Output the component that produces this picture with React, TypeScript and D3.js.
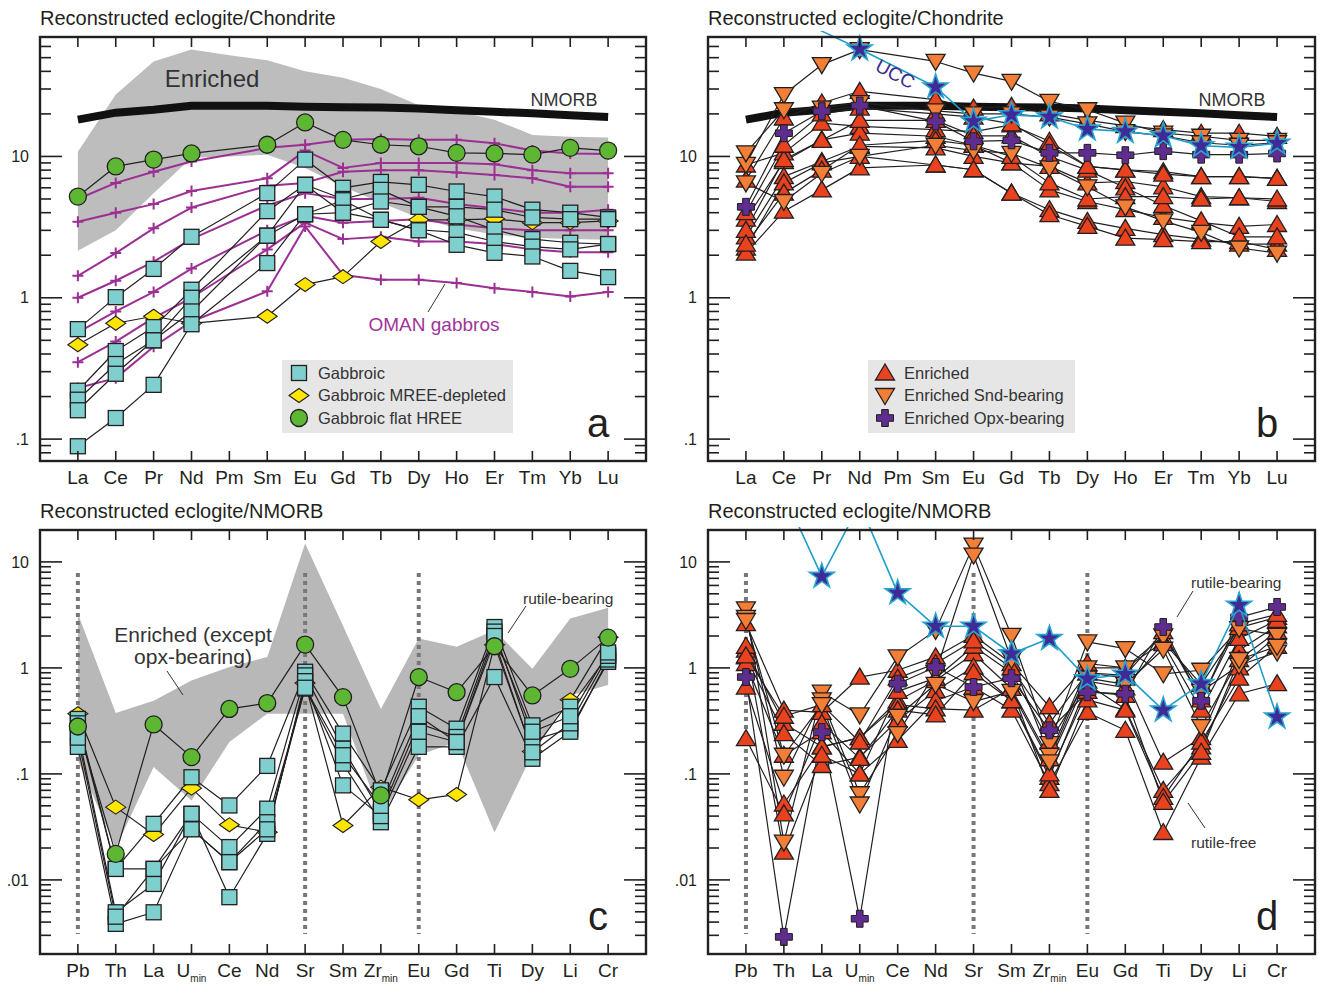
import React from 'react';
import * as d3 from 'd3';

// categories
const REE = ['La', 'Ce', 'Pr', 'Nd', 'Pm', 'Sm', 'Eu', 'Gd', 'Tb', 'Dy', 'Ho', 'Er', 'Tm', 'Yb', 'Lu'];
const SPIDER = ['Pb', 'Th', 'La', 'U', 'Ce', 'Nd', 'Sr', 'Sm', 'Zr', 'Eu', 'Gd', 'Ti', 'Dy', 'Li', 'Cr'];
const SUBS: Record<string, string> = { U: 'min', Zr: 'min' };

// ---- panel a: chondrite normalised, gabbroic ----
const nmorbChondrite = [18.2, 20.4, 21.4, 22.8, 22.8, 22.8, 22.5, 22.3, 22.2, 21.8, 21.2, 20.7, 20.2, 19.6, 19.0];
const enrichedUpperA = [10.8, 27.4, 47, 57, 52, 48, 40, 36, 30, 23, 21, 18.2, 14.2, 13.8, 13.6];
const enrichedLowerA = [2.15, 3.0, 5.5, 9.8, 10, 10.3, 8.3, 6.1, 4.7, 3.68, 3.1, 2.8, 2.66, 2.6, 2.57];
const omanGabbros = [
  [5.0, 6.5, 7.8, 9.2, null, 11.5, 12.1, 13.1, 13.3, 13.1, 13.1, 12.4, 11.0, 10.5, 10.4],
  [3.45, 4.0, 4.6, 5.7, null, 7.0, 11.0, 8.3, 9.0, 9.0, 9.0, 8.8, 8.0, 7.6, 7.6],
  [1.43, 2.07, 3.1, 4.35, null, 6.2, 6.5, 7.8, 8.0, 8.0, 7.7, 7.4, 7.0, 6.1, 6.1],
  [1.0, 1.32, 1.8, 2.6, null, 4.5, 5.5, 5.0, 5.0, 5.1, 4.6, 4.3, 4.0, 4.0, 4.2],
  [0.57, 0.8, 1.1, 1.61, null, 3.0, 3.8, 3.4, 3.5, 3.6, 3.3, 3.1, 3.0, 3.0, 3.0],
  [0.35, 0.49, 0.72, 1.0, null, 2.2, 3.4, 2.6, 2.7, 2.5, 2.5, 2.4, 2.2, 2.1, 2.1],
  [0.23, 0.27, 0.45, 0.68, null, 1.11, 3.2, 1.45, 1.34, 1.34, 1.27, 1.17, 1.1, 1.02, 1.1],
];
const gabbroicA = [
  [0.6, 1.01, 1.6, 2.7, null, 5.5, 9.5, 6.0, 6.6, 6.3, 5.65, 5.2, 4.2, 4.0, 3.7],
  [0.22, 0.42, 0.62, 1.14, null, 4.1, 6.3, 5.0, 5.8, 4.4, 4.4, 4.2, 3.7, 3.6, 3.6],
  [0.19, 0.34, 0.5, 1.0, null, 2.75, 6.3, 4.0, 4.8, 4.4, 3.77, 3.03, 2.6, 2.45, 2.4],
  [0.16, 0.29, 0.5, 0.8, null, 2.75, 3.9, 4.9, 3.56, 3.03, 2.9, 2.5, 2.3, 2.2, 2.4],
  [0.089, 0.141, 0.242, 0.65, null, 1.76, 3.9, 4.0, 3.56, 3.0, 2.37, 2.08, 1.96, 1.55, 1.4],
];
const mreeDepletedA = [[0.465, 0.66, 0.74, 0.66, null, 0.74, 1.24, 1.41, 2.5, 3.56, 3.56, 3.62, 3.4, 3.4, 3.5]];
const flatHreeA = [[5.2, 8.5, 9.5, 10.5, null, 12.1, 17.4, 13.1, 12.1, 11.8, 10.6, 10.5, 10.3, 11.5, 11.0]];

// ---- panel b: chondrite normalised, enriched ----
const uccChondrite = [127, 103, 77, 57.5, null, 31, 17.7, 19.7, 19.0, 15.6, 15.0, 14.0, 11.9, 11.6, 12.4];
const enrichedB = [
  [6.8, 18.7, 23.9, 28.9, null, 25.2, 22, 22.6, 20, 18, 16.5, 15.5, 14.6, 14.6, 13.9],
  [8.7, 10.6, 17.2, 16.3, null, 15.5, 15, 16.7, 12.8, 8.5, 8.05, 7.8, 7.2, 7.2, 7.0],
  [3.6, 9.2, 13.1, 14.6, null, 13.9, 12, 9.0, 8.5, 6.5, 6.65, 6.1, 5.2, 5.1, 4.8],
  [2.7, 7.2, 9.2, 11.8, null, 11.5, 10, 9.0, 5.8, 4.8, 4.2, 3.7, 3.4, 3.2, 3.3],
  [2.25, 6.5, 9.0, 10, null, 8.7, 8.05, 5.5, 4.2, 3.47, 3.1, 2.8, 2.6, 2.4, 2.4],
  [2.07, 4.1, 5.8, 8.3, null, 8.7, 8.05, 5.5, 3.87, 3.2, 2.64, 2.58, 2.5, 2.5, 2.2],
  [3.0, 9.5, 13, 18, null, 18, 14, 14, 10, 8, 6, 4.5, 3.5, 2.7, 2.7],
  [4.0, 12, 20, 22, null, 20, 19, 17, 12, 8.5, 8, 7.5, 7.2, 7.2, 7.0],
  [2.4, 5.5, 8, 12, null, 13, 12, 10, 6.5, 5.0, 5.2, 5.2, 5.0, 5.1, 5.0],
];
const sndBearingB = [
  [8.8, 27.4, 44.6, 57, null, 47, 38.9, 34, 24.5, 21.4, 17.2, 14.6, 13.9, 13, 13],
  [10.6, 21.4, 22, 24, null, 21, 20, 20, 19, 17, 15, 14, 12.5, 12, 12.5],
  [6.5, 4.8, 7.6, 10, null, 12, 11, 10.5, 8.3, 6.1, 4.4, 3.5, 2.9, 2.25, 2.07],
];
const opxBearingB = [[4.4, 14.6, 20.9, 22.9, null, 17.7, 12.8, 13, 10.6, 10.6, 10.2, 10.9, 10.3, 10.3, 10.5]];

// ---- panel c: NMORB normalised, gabbroic ----
const enrichedUpperC = [3.25, 0.375, 0.49, 0.76, 1.02, 1.27, 14.9, 2.5, 0.41, 1.89, 1.58, 2.27, 0.98, 2.92, 3.7];
const enrichedLowerC = [0.134, 0.02, 0.116, 0.056, 0.2, 0.37, 0.37, 0.37, 0.04, 0.15, 0.2, 0.028, 0.155, 0.55, 0.69];
const gabbroicC = [
  [0.33, 0.0127, 0.0338, 0.093, 0.0504, 0.119, 0.92, 0.24, 0.07, 0.43, 0.267, 2.43, 0.287, 0.43, 1.32],
  [0.3, 0.0127, 0.0127, 0.042, 0.0204, 0.047, 0.85, 0.173, 0.0435, 0.3, 0.223, 2.2, 0.207, 0.267, 1.14],
  [0.18, 0.00385, 0.00495, 0.0303, 0.0147, 0.035, 0.64, 0.125, 0.035, 0.18, 0.18, 0.82, 0.139, 0.25, 1.2],
  [0.25, 0.00495, 0.00916, 0.042, 0.00687, 0.0272, 0.75, 0.078, 0.04, 0.25, 0.2, 1.8, 0.16, 0.3, 1.3],
  [0.22, 0.0045, 0.0127, 0.03, 0.0147, 0.03, 0.65, 0.15, 0.05, 0.35, 0.2, 2.0, 0.25, 0.35, 1.4],
];
const mreeDepletedC = [[0.37, 0.0486, 0.0268, 0.0734, 0.0331, 0.0282, 0.72, 0.0326, 0.075, 0.057, 0.064, 1.65, 0.163, 0.5, 1.95]];
const flatHreeC = [[0.28, 0.0176, 0.293, 0.144, 0.41, 0.466, 1.66, 0.53, 0.0627, 0.82, 0.59, 1.6, 0.55, 0.98, 1.93]];

// ---- panel d: NMORB normalised, enriched ----
const uccNmorb = [40, 44, 7.3, 35, 5.1, 2.47, 2.47, 1.36, 1.89, 0.79, 0.87, 0.4, 0.71, 3.9, 0.344];
const enrichedD = [
  [2.62, 0.4, 0.38, 0.82, 0.95, 1.27, 2.03, 1.1, 0.43, 1.1, 1.0, 1.76, 0.7, 2.4, 3.0],
  [1.47, 0.3, 0.18, 0.22, 0.49, 0.76, 1.36, 0.64, 0.139, 0.9, 0.8, 0.129, 0.22, 1.47, 2.5],
  [1.27, 0.24, 0.12, 0.144, 0.32, 0.61, 1.02, 0.49, 0.093, 0.7, 0.41, 0.07, 0.18, 1.0, 2.0],
  [1.1, 0.15, 0.25, 0.1, 0.207, 0.49, 0.66, 0.4, 0.081, 0.38, 0.258, 0.028, 0.144, 0.57, 0.71],
  [0.66, 0.052, 0.18, 0.22, 0.45, 0.41, 0.4, 0.64, 0.07, 0.5, 0.4, 0.06, 0.2, 0.8, 1.6],
  [0.215, 0.042, 0.3, 0.14, 0.4, 0.36, 0.9, 0.49, 0.1, 0.6, 0.55, 0.054, 0.16, 1.2, 2.2],
  [1.6, 0.0183, 0.15, 0.1, 0.6, 0.8, 1.6, 0.9, 0.2, 0.75, 0.65, 1.7, 0.4, 1.9, 2.8],
  [1.3, 0.35, 0.45, 0.2, 0.8, 1.1, 1.8, 1.0, 0.3, 0.9, 0.85, 2.2, 0.5, 2.6, 3.2],
];
const sndBearingD = [
  [3.6, 0.0227, 0.59, 0.36, 1.27, 2.26, 14.4, 2.03, 0.193, 1.76, 1.52, 0.88, 0.95, 2.35, 2.03],
  [3.0, 0.093, 0.5, 0.065, 0.24, 0.9, 11.6, 1.2, 0.15, 1.0, 1.0, 2.0, 0.6, 1.06, 1.41],
  [2.8, 0.15, 0.45, 0.052, 0.35, 0.7, 0.48, 0.6, 0.13, 0.8, 0.7, 1.5, 0.28, 1.2, 1.6],
];
const opxBearingD = [[0.82, 0.0029, 0.248, 0.0043, 0.71, 1.02, 0.66, 0.8, 0.258, 0.59, 0.57, 2.43, 0.49, 3.0, 3.76]];

const FONT = 'Liberation Sans, Arial, Helvetica, sans-serif';
const INK = '#231f20';

type Pt = { i: number; v: number };
type Box = { left: number; top: number; width: number; height: number };

const A: Box = { left: 40, top: 37, width: 606, height: 424 };
const B: Box = { left: 708, top: 37, width: 607, height: 424 };
const C: Box = { left: 40, top: 530, width: 606, height: 424 };
const D: Box = { left: 708, top: 530, width: 607, height: 424 };

const pts = (arr: (number | null)[]): Pt[] =>
  arr.map((v, i) => ({ i, v: v as number })).filter(p => p.v != null);

function scales(box: Box, n: number, lo: number, hi: number) {
  const x = d3.scalePoint<number>().domain(d3.range(n)).range([box.left, box.left + box.width]).padding(1);
  const y = d3.scaleLog().domain([lo, hi]).range([box.top + box.height, box.top]);
  return { x: (i: number) => x(i) as number, y };
}

const fmtTick = (v: number) => d3.format('~g')(v).replace(/^0\./, '.');

// markers
const Square = ({ cx, cy }: { cx: number; cy: number }) => (
  <rect x={cx - 7.5} y={cy - 7.5} width={15} height={15} fill="#80cfcf" stroke={INK} strokeWidth={1.3} />
);
const Diamond = ({ cx, cy }: { cx: number; cy: number }) => (
  <polygon points={`${cx - 10},${cy} ${cx},${cy - 7} ${cx + 10},${cy} ${cx},${cy + 7}`} fill="#ffe600" stroke={INK} strokeWidth={1.1} />
);
const Circle = ({ cx, cy }: { cx: number; cy: number }) => (
  <circle cx={cx} cy={cy} r={8.5} fill="#5db733" stroke={INK} strokeWidth={1.3} />
);
const TriUp = ({ cx, cy }: { cx: number; cy: number }) => (
  <polygon points={`${cx},${cy - 9} ${cx + 9.5},${cy + 7} ${cx - 9.5},${cy + 7}`} fill="#e8421e" stroke={INK} strokeWidth={1.3} />
);
const TriDown = ({ cx, cy }: { cx: number; cy: number }) => (
  <polygon points={`${cx},${cy + 9} ${cx + 9.5},${cy - 7} ${cx - 9.5},${cy - 7}`} fill="#f27f35" stroke={INK} strokeWidth={1.3} />
);
const OpxCross = ({ cx, cy }: { cx: number; cy: number }) => {
  const a = 8.5, t = 3.3;
  const d = `M${cx - t},${cy - a}H${cx + t}V${cy - t}H${cx + a}V${cy + t}H${cx + t}V${cy + a}H${cx - t}V${cy + t}H${cx - a}V${cy - t}H${cx - t}Z`;
  return <path d={d} fill="#5e2d8f" stroke={INK} strokeWidth={1} />;
};
const starPath = d3.symbol().type(d3.symbolStar).size(190)() as string;
const Star = ({ cx, cy }: { cx: number; cy: number }) => (
  <path d={starPath} transform={`translate(${cx},${cy})`} fill="#3e2b95" stroke="#29a4cf" strokeWidth={1.6} />
);
const Plus = ({ cx, cy }: { cx: number; cy: number }) => (
  <path d={`M${cx - 5.5},${cy}H${cx + 5.5}M${cx},${cy - 5.5}V${cy + 5.5}`} stroke="#9b2f93" strokeWidth={2} />
);

type Sc = ReturnType<typeof scales>;

function Lines({ sc, data, color = INK, width = 1.2 }: { sc: Sc; data: (number | null)[][]; color?: string; width?: number }) {
  const line = d3.line<Pt>().x(p => sc.x(p.i)).y(p => sc.y(p.v));
  return (
    <g>
      {data.map((s, k) => (
        <path key={k} d={line(pts(s)) || ''} fill="none" stroke={color} strokeWidth={width} strokeLinejoin="round" />
      ))}
    </g>
  );
}

function Marks({ sc, data, M, max = Infinity }: { sc: Sc; data: (number | null)[][]; M: React.FC<{ cx: number; cy: number }>; max?: number }) {
  return (
    <g>
      {data.map((s, k) =>
        pts(s).filter(p => p.v <= max).map(p => <M key={`${k}-${p.i}`} cx={sc.x(p.i)} cy={sc.y(p.v)} />)
      )}
    </g>
  );
}

function Band({ sc, upper, lower, fill }: { sc: Sc; upper: number[]; lower: number[]; fill: string }) {
  const area = d3.area<number>().x(i => sc.x(i)).y0(i => sc.y(lower[i])).y1(i => sc.y(upper[i]));
  return <path d={area(d3.range(upper.length)) || ''} fill={fill} />;
}

function Frame({ box, sc, cats, title, letter }: { box: Box; sc: Sc; cats: string[]; title: string; letter: string }) {
  const right = box.left + box.width, bottom = box.top + box.height;
  const [lo, hi] = sc.y.domain();
  const majors: number[] = [], minors: number[] = [];
  for (let e = Math.floor(Math.log10(lo)) - 1; e <= Math.ceil(Math.log10(hi)); e++) {
    for (let k = 1; k <= 9; k++) {
      const v = +(k * Math.pow(10, e)).toPrecision(6);
      if (v < lo * 0.999 || v > hi * 1.001) continue;
      (k === 1 ? majors : minors).push(v);
    }
  }
  return (
    <g>
      <text x={box.left} y={box.top - 12} fontSize={20} fill={INK}>{title}</text>
      {cats.map((c, i) => (
        <g key={c + i}>
          <line x1={sc.x(i)} x2={sc.x(i)} y1={box.top} y2={box.top + 10} stroke={INK} strokeWidth={1.6} />
          <line x1={sc.x(i)} x2={sc.x(i)} y1={bottom} y2={bottom - 10} stroke={INK} strokeWidth={1.6} />
          <text x={sc.x(i)} y={bottom + 23} fontSize={19} textAnchor="middle" fill={INK}>
            {c}
            {SUBS[c] && !cats.includes('Pm') ? <tspan fontSize={10} dy={5}>{SUBS[c]}</tspan> : null}
          </text>
        </g>
      ))}
      {majors.map(v => (
        <g key={'M' + v}>
          <line x1={box.left} x2={box.left + 22} y1={sc.y(v)} y2={sc.y(v)} stroke={INK} strokeWidth={1.6} />
          <line x1={right} x2={right - 22} y1={sc.y(v)} y2={sc.y(v)} stroke={INK} strokeWidth={1.6} />
          <text x={box.left - 11} y={sc.y(v)} dy="0.35em" fontSize={16} textAnchor="end" fill={INK}>{fmtTick(v)}</text>
        </g>
      ))}
      {minors.map(v => (
        <g key={'m' + v}>
          <line x1={box.left} x2={box.left + 11} y1={sc.y(v)} y2={sc.y(v)} stroke={INK} strokeWidth={1.6} />
          <line x1={right} x2={right - 11} y1={sc.y(v)} y2={sc.y(v)} stroke={INK} strokeWidth={1.6} />
        </g>
      ))}
      <rect x={box.left} y={box.top} width={box.width} height={box.height} fill="none" stroke={INK} strokeWidth={2.4} />
      <text x={right - 48} y={bottom - 24} fontSize={40} textAnchor="middle" fill={INK}>{letter}</text>
    </g>
  );
}

function Legend({ x, y, w, items }: { x: number; y: number; w: number; items: [React.FC<{ cx: number; cy: number }>, string][] }) {
  return (
    <g>
      <rect x={x} y={y} width={w} height={73} fill="#e6e6e6" />
      {items.map(([M, label], k) => (
        <g key={label}>
          <M cx={x + 17} cy={y + 13 + k * 22.5} />
          <text x={x + 36} y={y + 13 + k * 22.5} dy="0.35em" fontSize={16.5} fill="#333">{label}</text>
        </g>
      ))}
    </g>
  );
}

function DashedGuides({ sc, box, idx }: { sc: Sc; box: Box; idx: number[] }) {
  return (
    <g>
      {idx.map(i => (
        <line key={i} x1={sc.x(i)} x2={sc.x(i)} y1={box.top + 43} y2={box.top + 404} stroke="#777" strokeWidth={4} strokeDasharray="4 4" />
      ))}
    </g>
  );
}

function PanelA() {
  const sc = scales(A, REE.length, 0.07, 70);
  const nm = d3.line<Pt>().x(p => sc.x(p.i)).y(p => sc.y(p.v));
  return (
    <g>
      <Band sc={sc} upper={enrichedUpperA} lower={enrichedLowerA} fill="#bdbdbd" />
      <text x={212} y={87} fontSize={24} textAnchor="middle" fill="#333">Enriched</text>
      <path d={nm(pts(nmorbChondrite)) || ''} fill="none" stroke="#111" strokeWidth={8} />
      <text x={564} y={106} fontSize={18} textAnchor="middle" fill="#333">NMORB</text>
      <Lines sc={sc} data={omanGabbros} color="#9b2f93" width={2} />
      <Marks sc={sc} data={omanGabbros} M={Plus} />
      <Lines sc={sc} data={[...gabbroicA, ...mreeDepletedA, ...flatHreeA]} />
      <Marks sc={sc} data={mreeDepletedA} M={Diamond} />
      <Marks sc={sc} data={gabbroicA} M={Square} />
      <Marks sc={sc} data={flatHreeA} M={Circle} />
      <line x1={428} y1={312} x2={445} y2={284} stroke="#333" strokeWidth={1} />
      <text x={434} y={331} fontSize={19} textAnchor="middle" fill="#a0359a">OMAN gabbros</text>
      <Legend x={282} y={360} w={231} items={[[Square, 'Gabbroic'], [Diamond, 'Gabbroic MREE-depleted'], [Circle, 'Gabbroic flat HREE']]} />
      <Frame box={A} sc={sc} cats={REE} title="Reconstructed eclogite/Chondrite" letter="a" />
    </g>
  );
}

function PanelB() {
  const sc = scales(B, REE.length, 0.07, 70);
  const nm = d3.line<Pt>().x(p => sc.x(p.i)).y(p => sc.y(p.v));
  return (
    <g>
      <defs>
        <clipPath id="clipB"><rect x={B.left} y={B.top - 6} width={B.width} height={B.height + 6} /></clipPath>
      </defs>
      <path d={nm(pts(nmorbChondrite)) || ''} fill="none" stroke="#111" strokeWidth={8} />
      <text x={1232} y={106} fontSize={18} textAnchor="middle" fill="#333">NMORB</text>
      <Lines sc={sc} data={[...enrichedB, ...sndBearingB, ...opxBearingB]} />
      <Marks sc={sc} data={enrichedB} M={TriUp} />
      <Marks sc={sc} data={sndBearingB} M={TriDown} />
      <Marks sc={sc} data={opxBearingB} M={OpxCross} />
      <g clipPath="url(#clipB)">
        <Lines sc={sc} data={[uccChondrite]} color="#1e9ec9" width={1.6} />
      </g>
      <Marks sc={sc} data={[uccChondrite]} M={Star} max={70} />
      <text x={0} y={0} fontSize={19} fill="#3b2a8f" transform="translate(874,70) rotate(28)">UCC</text>
      <Legend x={868} y={360} w={207} items={[[TriUp, 'Enriched'], [TriDown, 'Enriched Snd-bearing'], [OpxCross, 'Enriched Opx-bearing']]} />
      <Frame box={B} sc={sc} cats={REE} title="Reconstructed eclogite/Chondrite" letter="b" />
    </g>
  );
}

function PanelC() {
  const sc = scales(C, SPIDER.length, 0.002, 20);
  return (
    <g>
      <Band sc={sc} upper={enrichedUpperC} lower={enrichedLowerC} fill="#b8b8b8" />
      <DashedGuides sc={sc} box={C} idx={[0, 6, 9]} />
      <text x={193} y={642} fontSize={21} textAnchor="middle" fill="#333">Enriched (except</text>
      <text x={193} y={664} fontSize={21} textAnchor="middle" fill="#333">opx-bearing)</text>
      <line x1={183} y1={695} x2={167} y2={671} stroke="#333" strokeWidth={1} />
      <Lines sc={sc} data={[...gabbroicC, ...mreeDepletedC, ...flatHreeC]} />
      <Marks sc={sc} data={mreeDepletedC} M={Diamond} />
      <Marks sc={sc} data={gabbroicC} M={Square} />
      <Marks sc={sc} data={flatHreeC} M={Circle} />
      <line x1={508} y1={633} x2={526} y2={606} stroke="#333" strokeWidth={1} />
      <text x={523} y={604} fontSize={15.5} fill="#333">rutile-bearing</text>
      <Frame box={C} sc={sc} cats={SPIDER} title="Reconstructed eclogite/NMORB" letter="c" />
    </g>
  );
}

function PanelD() {
  const sc = scales(D, SPIDER.length, 0.002, 20);
  return (
    <g>
      <defs>
        <clipPath id="clipD"><rect x={D.left} y={D.top - 3} width={D.width} height={D.height + 3} /></clipPath>
      </defs>
      <DashedGuides sc={sc} box={D} idx={[0, 6, 9]} />
      <Lines sc={sc} data={[...enrichedD, ...sndBearingD, ...opxBearingD]} />
      <Marks sc={sc} data={enrichedD} M={TriUp} />
      <Marks sc={sc} data={sndBearingD} M={TriDown} />
      <Marks sc={sc} data={opxBearingD} M={OpxCross} />
      <g clipPath="url(#clipD)">
        <Lines sc={sc} data={[uccNmorb]} color="#1e9ec9" width={1.6} />
      </g>
      <Marks sc={sc} data={[uccNmorb]} M={Star} max={20} />
      <line x1={1177} y1={617} x2={1193} y2={591} stroke="#333" strokeWidth={1} />
      <text x={1191} y={588} fontSize={15.5} fill="#333">rutile-bearing</text>
      <line x1={1188} y1={803} x2={1205} y2={828} stroke="#333" strokeWidth={1} />
      <text x={1191} y={848} fontSize={15.5} fill="#333">rutile-free</text>
      <Frame box={D} sc={sc} cats={SPIDER} title="Reconstructed eclogite/NMORB" letter="d" />
    </g>
  );
}

export default function App() {
  return (
    <svg width={1319} height={987} style={{ position: 'absolute', left: 0, top: 0, background: '#fff' }} fontFamily={FONT}>
      <rect width={1319} height={987} fill="#fff" />
      <PanelA />
      <PanelB />
      <PanelC />
      <PanelD />
    </svg>
  );
}
